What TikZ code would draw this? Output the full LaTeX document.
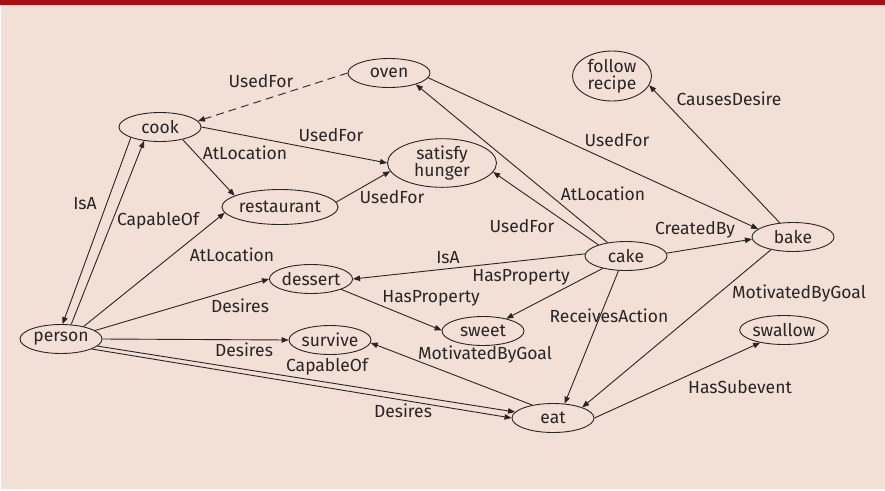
\documentclass[tikz,border=0pt]{standalone}
\usepackage{fontspec}
\setmainfont{Fira Sans}
\usetikzlibrary{arrows.meta,shapes.geometric}
\definecolor{bg}{HTML}{F2DFD6}
\definecolor{bar}{HTML}{AD0E14}
\definecolor{ink}{HTML}{2A2424}
\begin{document}
\begin{tikzpicture}[x=1pt,y=-1pt,
  concept/.style={ellipse,draw=ink,line width=0.9pt,inner sep=0pt,
    minimum width=82pt,minimum height=29pt,text=ink,
    font=\fontsize{17.5}{17}\selectfont,align=center},
  rel/.style={draw=ink,line width=0.9pt,-{Triangle[length=7pt,width=5.5pt]}},
  dashrel/.style={rel,dash pattern=on 8pt off 5pt},
  lbl/.style={text=ink,font=\fontsize{17.5}{17.5}\selectfont,inner sep=0pt}]
\fill[white] (0,0) rectangle (885,490);
\fill[bg] (1,5) rectangle (885,489);
\fill[bar] (0,0) rectangle (885,5);
\useasboundingbox (0,0) rectangle (885,490);

% concepts
\node[concept] (oven) at (389,73) {oven};
\node[concept,minimum width=79pt,minimum height=50pt] (recipe) at (612,76) {follow\\recipe};
\node[concept] (cook) at (160,127) {cook};
\node[concept,minimum width=109pt,minimum height=44pt] (hunger) at (442,163) {satisfy\\hunger};
\node[concept,minimum width=101pt,minimum height=35pt] (restaurant) at (280,207) {restaurant};
\node[concept] (bake) at (793,237) {bake};
\node[concept] (cake) at (626,256) {cake};
\node[concept] (dessert) at (311,279) {dessert};
\node[concept] (person) at (61,339) {person};
\node[concept] (survive) at (330,340) {survive};
\node[concept] (sweet) at (483,331) {sweet};
\node[concept] (swallow) at (784,330) {swallow};
\node[concept] (eat) at (553,418) {eat};

% relations
\draw[dashrel] (oven.west) -- (cook.9) node[lbl] at (261,81) {UsedFor};
\draw[rel] (cook.east) -- (hunger.west) node[lbl] at (331,135) {UsedFor};
\draw[rel] (cook.-29) -- (restaurant.166) node[lbl] at (245,153) {AtLocation};
\draw[rel] (restaurant.5) -- (hunger.189) node[lbl] at (392,197) {UsedFor};
\draw[rel] (cook.200) -- (person.84) node[lbl] at (85,204) {IsA};
\draw[rel] (person.55) -- (cook.221) node[lbl] at (158,221) {CapableOf};
\draw[rel] (person.29) -- (restaurant.186) node[lbl] at (232,255) {AtLocation};
\draw[rel] (person.14) -- (dessert.west) node[lbl] at (240,306) {Desires};
\draw[rel] (person.east) -- (survive.west) node[lbl] at (244,350) {Desires};
\draw[rel] (person.349) -- (eat.171) node[lbl] at (327,367) {CapableOf};
\draw[rel] (person.342) -- (eat.180) node[lbl] at (403,411) {Desires};
\draw[rel] (eat.148) -- (survive.356) node[lbl] at (485,355) {MotivatedByGoal};
\draw[rel] (dessert.341) -- (sweet.179) node[lbl] at (431,298) {HasProperty};
\draw[rel] (cake.177) -- (dessert.east) node[lbl] at (448,258) {IsA};
\draw[rel] (cake.208) -- (sweet.28) node[lbl] at (521,277) {HasProperty};
\draw[rel] (cake.243) -- (eat.51) node[lbl] at (609,316) {ReceivesAction};
\draw[rel] (bake.210) -- (eat.20) node[lbl] at (799,294) {MotivatedByGoal};
\draw[rel] (cake.4) -- (bake.183) node[lbl] at (695,230) {CreatedBy};
\draw[rel] (oven.353) -- (bake.167) node[lbl] at (617,140) {UsedFor};
\draw[rel] (bake.133) -- (recipe.346) node[lbl] at (729,99) {CausesDesire};
\draw[rel] (cake.144) -- (oven.337) node[lbl] at (603,194) {AtLocation};
\draw[rel] (cake.158) -- (hunger.350) node[lbl] at (522,226) {UsedFor};
\draw[rel] (eat.east) -- (swallow.208) node[lbl] at (740,387) {HasSubevent};
\end{tikzpicture}
\end{document}
